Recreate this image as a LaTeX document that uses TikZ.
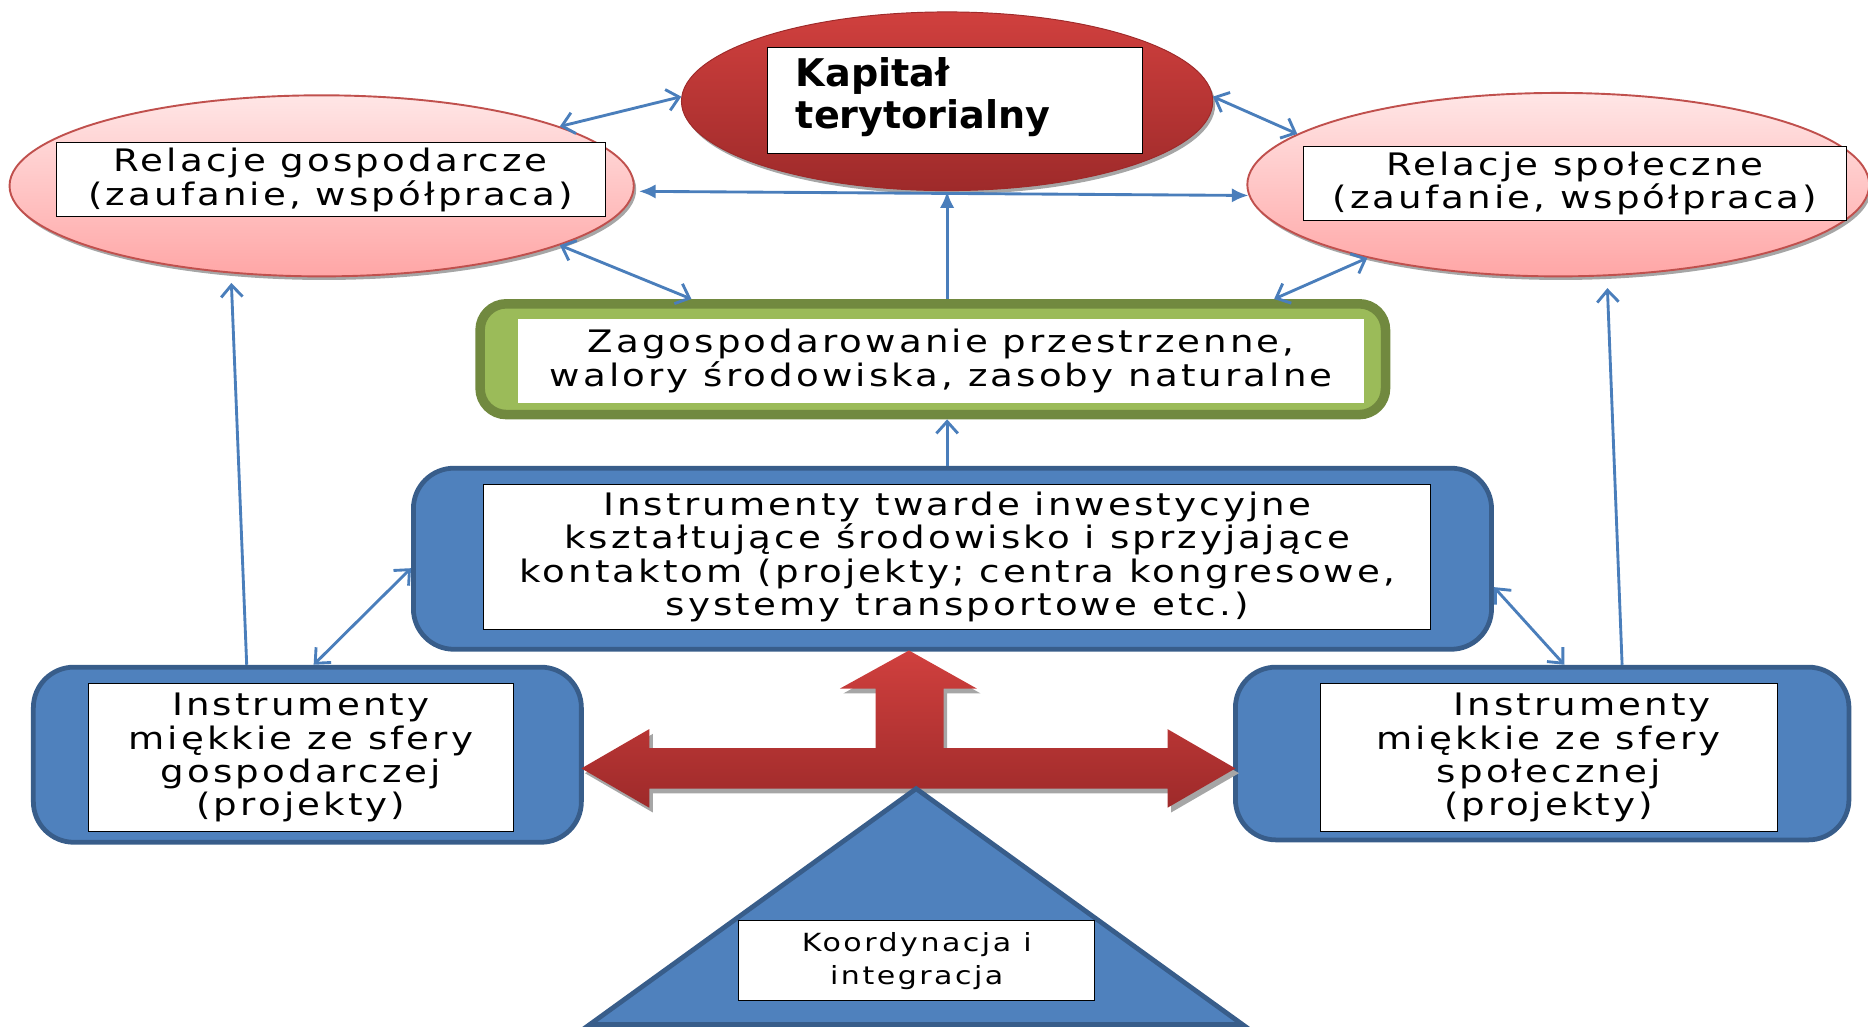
\documentclass[tikz,border=0pt]{standalone}
\usepackage{fontspec}
\setmainfont{DejaVu Sans}[FakeStretch=1.2, LetterSpace=10]
\newfontfamily\capitalfont{DejaVu Sans}
\usetikzlibrary{shapes.geometric,arrows.meta,shadows}

\definecolor{bluefill}{RGB}{79,129,189}
\definecolor{blueline}{RGB}{56,93,138}
\definecolor{greenfill}{RGB}{155,187,89}
\definecolor{greenline}{RGB}{113,137,63}
\definecolor{redtop}{RGB}{208,64,62}
\definecolor{redbot}{RGB}{158,42,42}
\definecolor{pinktop}{RGB}{255,230,230}
\definecolor{pinkbot}{RGB}{255,166,166}
\definecolor{pinkline}{RGB}{192,80,77}
\definecolor{linkblue}{RGB}{74,126,187}

\newcommand{\crossarrow}{(488,645) -- (545,612) -- (545,628) -- (735,628) -- (735,578) -- (705,578) -- (763,546) -- (820,578) -- (792,578) -- (792,628) -- (980,628) -- (980,612) -- (1037,645) -- (980,678) -- (980,662) -- (545,662) -- (545,678) -- cycle}

\begin{document}
\begin{tikzpicture}[x=0.5pt,y=-0.5pt]
    % Define styles
    \tikzstyle{oval_capital} = [ellipse, draw=redbot, top color=redtop, bottom color=redbot, minimum width=223pt, minimum height=75pt, drop shadow={shadow xshift=1pt, shadow yshift=-1.5pt, fill=gray!70, opacity=1}]
    \tikzstyle{oval_relation} = [ellipse, draw=pinkline, thick, top color=pinktop, bottom color=pinkbot, drop shadow={shadow xshift=1pt, shadow yshift=-1.5pt, fill=gray!70, opacity=1}]
    \tikzstyle{box_blue} = [rectangle, draw=blueline, line width=2pt, fill=bluefill, rounded corners=17pt]
    \tikzstyle{box_green} = [rectangle, draw=greenline, line width=4pt, fill=greenfill, rounded corners=11pt, minimum width=380pt, minimum height=46.5pt]
    \tikzstyle{box_text} = [rectangle, draw, fill=white, align=center, inner sep=0pt, font=\fontsize{13}{14}\selectfont]
    \tikzstyle{link} = [draw=linkblue, line width=1.2pt, {Straight Barb[length=5pt,width=9pt]}-{Straight Barb[length=5pt,width=9pt]}]
    \tikzstyle{link_up} = [draw=linkblue, line width=1.2pt, -{Straight Barb[length=5pt,width=9pt]}]
    \tikzstyle{link_filled} = [draw=linkblue, line width=1.2pt, -{Latex[length=7pt,width=6pt]}]

    \useasboundingbox (0,0) rectangle (1568,862);

    % Shapes
    \node [oval_capital] (capital) at (795,85) {};
    \node [oval_relation, minimum width=262pt, minimum height=76pt] (rel_econ) at (270,156) {};
    \node [oval_relation, minimum width=261pt, minimum height=77pt] (rel_soc) at (1308,155) {};
    \node [box_green] (space) at (783,301.5) {};
    \node [box_blue, minimum width=452.5pt, minimum height=76pt] (hard) at (799.5,469) {};
    \node [box_blue, minimum width=230pt, minimum height=73.5pt] (soft_econ) at (258,633.5) {};
    \node [box_blue, minimum width=257.5pt, minimum height=72.5pt] (soft_soc) at (1294.5,632.5) {};

    \fill [gray!70, shift={(3,4)}] \crossarrow;
    \shade [top color=redtop, bottom color=redbot] \crossarrow;
    \filldraw [fill=bluefill, draw=blueline, line width=2pt] (769,662) -- (1043,860) -- (495,860) -- cycle;

    % Texts
    \node [box_text, align=left, text width=133.5pt, inner xsep=12pt, minimum height=44.5pt, font=\capitalfont\fontsize{16}{17.5}\selectfont\bfseries] (capital_txt) at (801.5,84.5) {Kapitał\\terytorialny\vspace{3pt}};
    \node [box_text, minimum width=230.5pt, minimum height=31pt] (rel_econ_txt) at (277.5,151) {Relacje gospodarcze\\(zaufanie, współpraca)};
    \node [box_text, minimum width=228pt, minimum height=31pt] (rel_soc_txt) at (1322,154) {Relacje społeczne\\(zaufanie, współpraca)};
    \node [box_text, draw=none, minimum width=355pt, minimum height=35pt] (space_txt) at (790,303) {Zagospodarowanie przestrzenne,\\walory środowiska, zasoby naturalne};
    \node [box_text, minimum width=397.5pt, minimum height=60.5pt] (hard_txt) at (803.5,467.5) {Instrumenty twarde inwestycyjne\\kształtujące środowisko i sprzyjające\\kontaktom (projekty; centra kongresowe,\\systemy transportowe etc.)};
    \node [box_text, minimum width=178.5pt, minimum height=62pt] (soft_econ_txt) at (252.5,636) {Instrumenty\\miękkie ze sfery\\gospodarczej\\(projekty)};
    \node [box_text, minimum width=192pt, minimum height=62pt] (soft_soc_txt) at (1300,636) {\hspace*{28pt}Instrumenty\\miękkie ze sfery\\społecznej\\(projekty)};
    \node [box_text, minimum width=149.5pt, minimum height=33.5pt, font=\fontsize{10.5}{14}\selectfont] (coord_txt) at (769.5,806.5) {Koordynacja i\\integracja};

    % Lines
    \path [link] (rel_econ.14) -- (capital.179);
    \path [link] (capital.1) -- (rel_soc.169);
    \path [link] (rel_econ.-14) -- (space.166);
    \path [link] (rel_soc.-159) -- (space.10.8);
    \path [draw=linkblue, line width=1.2pt, {Latex[length=7pt,width=6pt]}-{Latex[length=7pt,width=6pt]}, shorten <=2pt] (rel_econ.-1) -- (rel_soc.182);
    \path [link_filled] (space.north -| capital.south) -- (capital.south);
    \path [link_up] (hard.north -| capital.south) -- (space.south -| capital.south);
    \path [link_up, shorten >=4pt] (soft_econ.124) -- (rel_econ.-136);
    \path [link_up, shorten >=5pt] (soft_soc.48) -- (rel_soc.-62);
    \path [link] (soft_econ.86) -- (hard.181);
    \path [link] (hard.-3) -- (soft_soc.76);
\end{tikzpicture}
\end{document}
